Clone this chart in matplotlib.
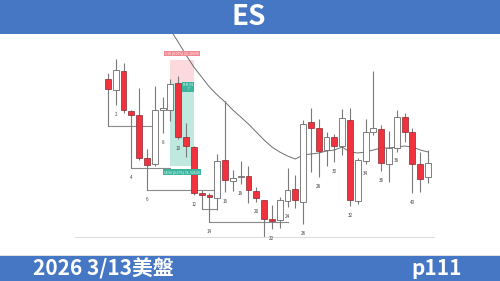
import numpy as np
import matplotlib
matplotlib.use("Agg")
import matplotlib.pyplot as plt
from matplotlib.patches import Rectangle

plt.rcParams["font.family"] = ["Noto Sans CJK TC", "DejaVu Sans"]

# ES K線 (讀圖估計)
opens = [6870.7, 6860.0, 6879.0, 6839.3, 6835.0, 6792.3, 6785.7, 6840.0, 6840.0, 6866.7,
         6812.7, 6803.3, 6757.3, 6755.0, 6751.7, 6790.0, 6769.0, 6773.0, 6774.0, 6759.0,
         6750.0, 6730.7, 6729.7, 6749.0, 6760.7, 6748.5, 6827.7, 6821.7, 6800.0, 6812.7,
         6804.5, 6830.0, 6749.3, 6789.0, 6818.3, 6820.7, 6785.7, 6801.7, 6833.3, 6818.3,
         6786.0, 6772.7]
highs = [6877.0, 6891.0, 6887.3, 6840.0, 6862.0, 6801.0, 6864.0, 6853.3, 6871.0, 6874.0,
         6826.7, 6804.0, 6760.0, 6757.0, 6796.0, 6849.0, 6780.0, 6789.3, 6784.0, 6763.0,
         6750.5, 6745.0, 6753.3, 6781.7, 6775.5, 6830.3, 6842.5, 6830.7, 6818.3, 6815.7,
         6841.0, 6841.7, 6791.7, 6831.0, 6879.3, 6825.0, 6819.3, 6840.0, 6837.3, 6821.7,
         6798.3, 6800.0]
lows = [6824.0, 6845.0, 6837.3, 6782.0, 6790.0, 6760.0, 6784.0, 6817.3, 6829.0, 6811.0,
        6793.3, 6755.0, 6741.0, 6728.0, 6740.0, 6758.3, 6759.0, 6766.0, 6747.0, 6748.0,
        6713.0, 6721.0, 6722.0, 6743.3, 6741.7, 6725.8, 6778.3, 6773.3, 6784.0, 6788.0,
        6795.0, 6744.3, 6745.7, 6786.0, 6815.0, 6779.3, 6767.7, 6798.5, 6808.3, 6757.3,
        6758.3, 6767.0]
closes = [6860.7, 6880.0, 6840.0, 6835.3, 6792.3, 6785.0, 6840.0, 6842.3, 6866.0, 6813.3,
          6804.0, 6756.7, 6755.0, 6752.7, 6789.3, 6770.0, 6771.7, 6773.5, 6760.0, 6751.7,
          6730.7, 6729.3, 6749.7, 6760.5, 6750.0, 6825.7, 6822.3, 6799.0, 6813.5, 6804.3,
          6831.7, 6750.0, 6790.0, 6817.7, 6821.7, 6787.3, 6801.7, 6833.3, 6818.3, 6786.0,
          6771.0, 6786.7]

# 均線 (第8根起)
ma_start = 8
ma_vals = [6932, 6920, 6908, 6895, 6883, 6873, 6863, 6855, 6848, 6840,
           6833, 6826, 6818, 6810, 6803, 6798, 6794, 6791, 6795, 6796,
           6797, 6799, 6800, 6803, 6798, 6797, 6798, 6800, 6802, 6802,
           6803, 6804, 6803, 6800, 6798]

# 前低水平線: 起點K棒, 終點K棒, 價位
lvl_start = [1, 4, 6, 13, 14]
lvl_end = [7, 9, 15, 15, 24]
lvl_price = [6824.0, 6782.0, 6760.0, 6741.0, 6728.0]

# 部位工具
pos_from, pos_to = 9, 12
entry, stop, target = 6867.0, 6890.0, 6784.0
stop_txt = "5.00 (0.07%) 20, 100.00"
rr_txt = "R:R 3.6\n7"
target_txt = "18.50 (0.27%) 74, 925.00"

title = "ES"
footer_left = "2026 3/13美盤"
footer_right = "p111"

blue = "#4677c4"
red = "#f0323f"

fig = plt.figure(figsize=(5, 2.81), dpi=100)
fig.patch.set_facecolor("white")

# 主圖
ax = fig.add_axes([75 / 500, 44 / 281, 358.5 / 500, 203 / 281])
ax.set_facecolor("white")
n = len(opens)
x = np.arange(1, n + 1)
o = np.array(opens)
h = np.array(highs)
l = np.array(lows)
c = np.array(closes)
up = c >= o

ax.add_patch(Rectangle((pos_from, entry), pos_to - pos_from, stop - entry,
                       facecolor="#fbd9dc", edgecolor="none", zorder=0.5))
ax.add_patch(Rectangle((pos_from, target), pos_to - pos_from, entry - target,
                       facecolor="#bfe8df", edgecolor="none", zorder=0.5))

for s, e, p in zip(lvl_start, lvl_end, lvl_price):
    ax.plot([s, e], [p, p], color="#8a8a8a", lw=0.8, zorder=1)

ax.vlines(x, l, h, color="#7a7a7a", lw=0.8, zorder=1.5)
body_bot = np.minimum(o, c)
body_h = np.maximum(np.abs(c - o), 0.9)
ax.bar(x[up], body_h[up], bottom=body_bot[up], width=0.75, color="white",
       edgecolor="#6a6a6a", linewidth=0.6, zorder=2)
ax.bar(x[~up], body_h[~up], bottom=body_bot[~up], width=0.75, color=red,
       edgecolor="#8a2a30", linewidth=0.5, zorder=2)

ma_x = np.arange(ma_start, ma_start + len(ma_vals))
ax.plot(ma_x, ma_vals, color="#6e6e6e", lw=0.7, zorder=1.8)

for i in range(2, 41, 2):
    ax.text(i, lows[i - 1] - 9.5, str(i), ha="center", va="center",
            fontsize=3.3, color="#444444", zorder=3)

mid = (pos_from + pos_to) / 2
ax.text(mid, stop + 6.5, stop_txt, ha="center", va="center", fontsize=2.3,
        color="white", zorder=4,
        bbox=dict(boxstyle="square,pad=0.3", fc="#f3878f", ec="none"))
ax.text(mid + 0.8, entry - 4, rr_txt, ha="center", va="center", fontsize=2.3,
        color="white", zorder=4, linespacing=0.9,
        bbox=dict(boxstyle="square,pad=0.3", fc="#3bb59d", ec="none"))
ax.text(mid, target - 6, target_txt, ha="center", va="center", fontsize=2.3,
        color="white", zorder=4,
        bbox=dict(boxstyle="square,pad=0.3", fc="#3bb59d", ec="none"))

ax.set_xlim(-3.22, 42.7)
ax.set_ylim(6713, 6916)
for side in ["top", "left", "right"]:
    ax.spines[side].set_visible(False)
ax.spines["bottom"].set_color("#dddddd")
ax.spines["bottom"].set_linewidth(0.8)
ax.set_xticks([])
ax.set_yticks([])

# 上方標題列
top = fig.add_axes([0, 1 - 34 / 281, 1, 34 / 281])
top.set_facecolor(blue)
top.set_xticks([])
top.set_yticks([])
for sp in top.spines.values():
    sp.set_visible(False)
top.text(0.497, 0.5, title, ha="center", va="center", fontsize=20,
         fontweight="bold", color="white", transform=top.transAxes)

# 下方頁尾
bot = fig.add_axes([0, 0, 1, 25.5 / 281])
bot.set_facecolor(blue)
bot.set_xticks([])
bot.set_yticks([])
for sp in bot.spines.values():
    sp.set_visible(False)
bot.text(33 / 500, 0.48, footer_left, ha="left", va="center", fontsize=15,
         fontweight="bold", color="white", transform=bot.transAxes)
bot.text(462 / 500, 0.48, footer_right, ha="right", va="center", fontsize=15,
         fontweight="bold", color="white", transform=bot.transAxes)
fig.add_artist(plt.Line2D([0, 1], [26.2 / 281, 26.2 / 281], color="#d8d8d8", lw=0.6))

fig.savefig("out.png", dpi=100)
